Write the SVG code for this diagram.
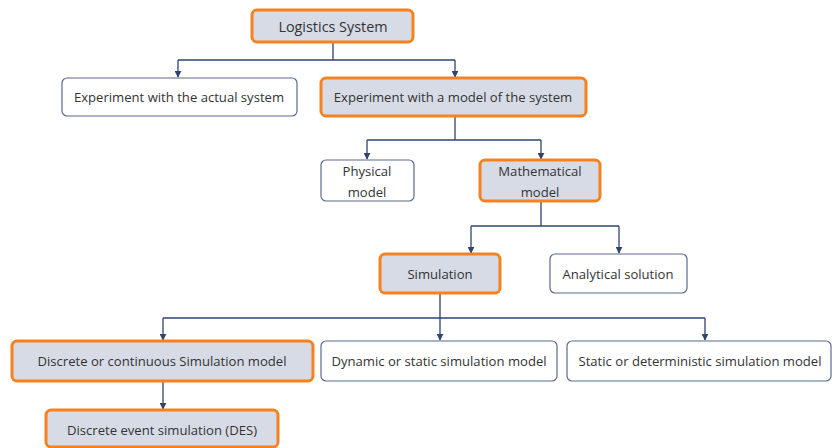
<svg xmlns="http://www.w3.org/2000/svg" width="832" height="448" viewBox="0 0 832 448">
  <defs>
    <marker id="arrow" viewBox="0 0 10 10" refX="9" refY="5" markerWidth="7" markerHeight="7" markerUnits="userSpaceOnUse" orient="auto">
      <path d="M0,0 L10,5 L0,10 z" fill="#2f4470"/>
    </marker>
    <style>
      .plain { fill: #ffffff; stroke: #5a6a8a; stroke-width: 1.2; }
      .hi { fill: #d7dbe6; stroke: #f5821f; stroke-width: 3; }
      .lbl { font-family: "Open Sans", "Liberation Sans", Arial, sans-serif; font-size: 13.1px; fill: #333333; text-anchor: middle; dominant-baseline: central; }
      .big { font-size: 14.4px; }
      .wire { fill: none; stroke: #2f4470; stroke-width: 1.3; }
    </style>
  </defs>
  <rect width="832" height="448" fill="#ffffff"/>

  <g id="connectors">
    <path class="wire" d="M333,42 V60 M178,60 H455"/>
    <path class="wire" d="M178,60 V77" marker-end="url(#arrow)"/>
    <path class="wire" d="M455,60 V77" marker-end="url(#arrow)"/>
    <path class="wire" d="M455,116 V140 M367,140 H541"/>
    <path class="wire" d="M367,140 V159" marker-end="url(#arrow)"/>
    <path class="wire" d="M541,140 V159" marker-end="url(#arrow)"/>
    <path class="wire" d="M541,201 V226 M471,226 H619"/>
    <path class="wire" d="M471,226 V253" marker-end="url(#arrow)"/>
    <path class="wire" d="M619,226 V253" marker-end="url(#arrow)"/>
    <path class="wire" d="M440,293 V318 M163,318 H705"/>
    <path class="wire" d="M163,318 V340" marker-end="url(#arrow)"/>
    <path class="wire" d="M440,318 V340" marker-end="url(#arrow)"/>
    <path class="wire" d="M705,318 V340" marker-end="url(#arrow)"/>
    <path class="wire" d="M163,381 V409" marker-end="url(#arrow)"/>
  </g>

  <g id="logistics-system">
    <rect class="hi" x="252" y="10" width="161" height="32" rx="5"/>
    <text class="lbl big" x="333" y="26">Logistics System</text>
  </g>
  <g id="actual-system">
    <rect class="plain" x="62" y="78" width="235" height="38" rx="5"/>
    <text class="lbl" x="179" y="97">Experiment with the actual system</text>
  </g>
  <g id="model-system">
    <rect class="hi" x="321" y="78" width="265" height="38" rx="5"/>
    <text class="lbl" x="453" y="97">Experiment with a model of the system</text>
  </g>
  <g id="physical-model">
    <rect class="plain" x="321" y="160" width="93" height="41" rx="5"/>
    <text class="lbl" x="367" y="171">Physical</text>
    <text class="lbl" x="367" y="192">model</text>
  </g>
  <g id="mathematical-model">
    <rect class="hi" x="480" y="160" width="120" height="41" rx="5"/>
    <text class="lbl" x="540" y="171">Mathematical</text>
    <text class="lbl" x="540" y="192">model</text>
  </g>
  <g id="simulation">
    <rect class="hi" x="380" y="254" width="120" height="39" rx="5"/>
    <text class="lbl" x="440" y="274">Simulation</text>
  </g>
  <g id="analytical-solution">
    <rect class="plain" x="550" y="254" width="137" height="39" rx="5"/>
    <text class="lbl" x="618" y="274">Analytical solution</text>
  </g>
  <g id="discrete-continuous">
    <rect class="hi" x="12" y="341" width="301" height="40" rx="5"/>
    <text class="lbl" x="162" y="361">Discrete or continuous Simulation model</text>
  </g>
  <g id="dynamic-static">
    <rect class="plain" x="321" y="341" width="236" height="40" rx="5"/>
    <text class="lbl" x="439" y="361">Dynamic or static simulation model</text>
  </g>
  <g id="static-deterministic">
    <rect class="plain" x="567" y="341" width="264" height="40" rx="5"/>
    <text class="lbl" x="700" y="361">Static or deterministic simulation model</text>
  </g>
  <g id="des">
    <rect class="hi" x="46" y="410" width="232" height="37" rx="5"/>
    <text class="lbl" x="162" y="430">Discrete event simulation (DES)</text>
  </g>
</svg>
